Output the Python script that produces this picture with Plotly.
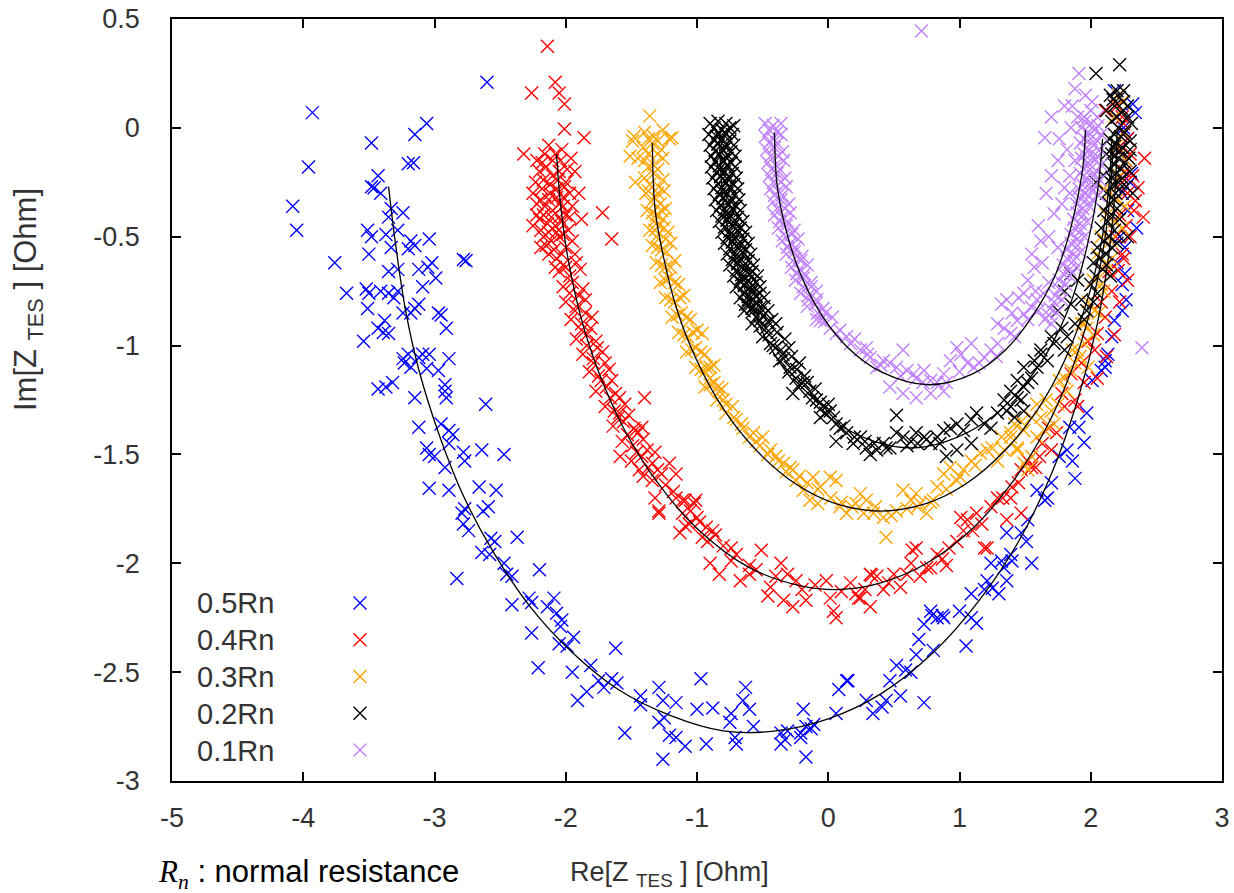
import plotly.graph_objects as go

# ---------------- data (Re, Im in Ohm) ----------------
labels = ["0.5Rn", "0.4Rn", "0.3Rn", "0.2Rn", "0.1Rn"]
colors = ["#0000ff", "#ff0000", "#ffa500", "#000000", "#c080ff"]

pts_05 = [
    (-2.60, 0.21), (-3.93, 0.07), (-3.06, 0.02), (-3.15, -0.03), (-3.48, -0.07), (-3.96, -0.18), (-3.20, -0.165), (-3.16, -0.16),
    (-3.43, -0.22), (-3.48, -0.27), (-3.41, -0.30), (-3.46, -0.275), (-4.08, -0.36), (-4.05, -0.47), (-3.33, -0.37), (-3.24, -0.39), (-3.35, -0.41),
    (-3.51, -0.47), (-3.48, -0.50), (-3.37, -0.49), (-3.28, -0.47), (-3.18, -0.52), (-3.15, -0.54), (-3.04, -0.51), (-3.50, -0.58), (-3.33, -0.55), (-3.20, -0.555),
    (-3.76, -0.62), (-2.78, -0.605), (-2.76, -0.61),
    (-3.35, -0.66), (-3.28, -0.65), (-3.12, -0.65), (-3.02, -0.62), (-2.99, -0.69), (-3.09, -0.73), (-3.05, -0.64),
    (-3.67, -0.76), (-3.52, -0.74), (-3.50, -0.76), (-3.51, -0.83), (-3.41, -0.75), (-3.35, -0.76), (-3.31, -0.78), (-3.28, -0.75),
    (-3.15, -0.83), (-3.12, -0.81), (-2.97, -0.85), (-2.95, -0.86), (-2.91, -0.92), (-3.24, -0.85), (-3.18, -0.85),
    (-3.54, -0.98), (-3.43, -0.92), (-3.38, -0.885), (-3.35, -0.945), (-3.39, -0.94),
    (-3.24, -1.06), (-3.23, -1.08), (-3.18, -1.10), (-3.12, -1.055), (-3.09, -1.04), (-3.04, -1.04), (-3.06, -1.105), (-2.97, -1.115), (-2.89, -1.06), (-3.20, -1.04),
    (-3.43, -1.20), (-3.32, -1.17), (-3.37, -1.19), (-3.15, -1.24), (-2.92, -1.21), (-2.91, -1.24), (-2.92, -1.18), (-2.61, -1.27),
    (-3.12, -1.375), (-2.95, -1.36), (-2.89, -1.39), (-2.86, -1.41),
    (-3.06, -1.47), (-3.04, -1.50), (-3.00, -1.51), (-2.92, -1.56), (-2.78, -1.49), (-2.77, -1.53), (-2.64, -1.48), (-2.47, -1.50), (-2.89, -1.45),
    (-3.04, -1.655), (-2.89, -1.665), (-2.66, -1.65), (-2.53, -1.665), (-2.77, -1.75), (-2.63, -1.76), (-2.79, -1.77), (-2.59, -1.74),
    (-2.74, -1.85), (-2.78, -1.82), (-2.57, -1.885), (-2.54, -1.90), (-2.37, -1.88), (-2.64, -1.95), (-2.58, -1.96), (-2.83, -2.07),
    (-2.47, -2.00), (-2.45, -2.05), (-2.41, -2.06), (-2.20, -2.03),
    (-2.41, -2.19), (-2.28, -2.16), (-2.26, -2.18), (-2.09, -2.16), (-2.14, -2.20), (-2.07, -2.23), (-2.03, -2.26), (-2.04, -2.29), (-2.26, -2.32),
    (-2.05, -2.37), (-1.94, -2.34), (-1.99, -2.38), (-2.21, -2.48),
    (-1.95, -2.50), (-1.81, -2.47), (-1.84, -2.59), (-1.91, -2.63), (-1.75, -2.54), (-1.71, -2.57), (-1.65, -2.53), (-1.61, -2.55), (-1.62, -2.39),
    (-1.43, -2.61), (-1.43, -2.65), (-1.29, -2.57), (-1.26, -2.63), (-1.16, -2.64), (-1.55, -2.78), (-1.29, -2.73), (-1.25, -2.71), (-1.21, -2.79), (-1.16, -2.80), (-1.09, -2.84), (-1.26, -2.90),
    (-0.97, -2.53), (-1.00, -2.67), (-0.88, -2.665), (-0.93, -2.83), (-0.74, -2.69), (-0.75, -2.73), (-0.65, -2.63), (-0.63, -2.57), (-0.60, -2.67), (-0.71, -2.80), (-0.70, -2.83), (-0.57, -2.75),
    (-0.36, -2.78), (-0.33, -2.81), (-0.31, -2.77), (-0.19, -2.67), (-0.21, -2.78), (-0.17, -2.75), (-0.13, -2.76), (-0.11, -2.74), (-0.21, -2.80), (-0.17, -2.89), (-0.36, -2.83),
    (0.08, -2.58), (0.15, -2.54), (0.06, -2.69),
    (0.14, -2.54), (0.34, -2.69), (0.41, -2.66), (0.29, -2.63), (0.44, -2.63), (0.55, -2.61), (0.73, -2.64),
    (0.47, -2.54), (0.52, -2.47), (0.59, -2.49), (0.63, -2.50), (0.67, -2.42), (0.69, -2.35), (0.80, -2.40), (0.73, -2.28),
    (0.79, -2.24), (0.83, -2.25), (0.87, -2.24), (0.88, -2.25), (0.78, -2.22), (1.00, -2.22), (1.09, -2.25), (1.13, -2.275), (1.05, -2.38), (1.09, -2.14),
    (1.19, -2.12), (1.25, -2.115), (1.21, -2.08), (1.30, -2.14), (1.36, -2.08), (1.24, -2.00), (1.32, -1.99), (1.34, -2.02), (1.39, -1.96), (1.40, -1.99),
    (1.55, -2.00), (1.51, -1.90), (1.47, -1.86), (1.36, -1.86), (1.52, -1.80), (1.65, -1.71),
    (1.67, -1.70), (1.59, -1.665), (1.70, -1.63), (1.88, -1.61), (1.76, -1.51), (1.82, -1.48), (1.86, -1.53), (1.95, -1.445), (1.97, -1.31), (1.91, -1.375), (1.84, -1.375),
    (2.01, -1.16), (2.08, -1.115), (2.11, -1.07), (2.13, -1.04), (2.18, -0.885), (2.24, -0.84), (2.27, -0.79), (2.16, -0.96),
    (2.18, 0.17), (2.32, 0.11), (2.34, 0.07), (2.31, -0.21), (2.35, -0.46), (2.26, -0.67), (2.11, -1.10),
    (2.20, 0.05), (2.25, 0.00), (2.28, -0.05), (2.22, -0.10), (2.27, -0.15), (2.30, -0.25), (2.24, -0.30), (2.28, -0.38),
    (2.22, -0.50), (2.26, -0.55), (2.20, -0.62), (2.24, -0.72),
]

pts_04 = [
    (-2.14, 0.375), (-2.26, 0.16), (-2.08, 0.21), (-2.05, 0.16), (-2.01, 0.11), (-2.01, -0.005), (-1.86, -0.045), (-2.32, -0.12), (-1.72, -0.39), (-1.65, -0.51),
    (-2.08, -0.12), (-2.13, -0.08), (-2.03, -0.10), (-2.16, -0.12), (-1.93, -0.20), (-1.90, -0.30), (-1.88, -0.42), (-2.25, -0.45), (-2.19, -0.55), (-2.25, -0.30),
    (-2.20, -0.20), (-2.15, -0.18), (-2.10, -0.22), (-2.05, -0.20), (-2.00, -0.25), (-2.18, -0.28), (-2.12, -0.30), (-2.07, -0.28), (-2.02, -0.32), (-1.97, -0.30),
    (-2.22, -0.35), (-2.16, -0.36), (-2.10, -0.38), (-2.05, -0.35), (-2.00, -0.40), (-1.95, -0.36), (-2.20, -0.42), (-2.14, -0.44), (-2.08, -0.45), (-2.03, -0.43),
    (-1.98, -0.47), (-2.17, -0.50), (-2.11, -0.52), (-2.05, -0.50), (-2.00, -0.55), (-2.13, -0.58), (-2.07, -0.60), (-2.02, -0.63), (-1.93, -0.58), (-1.96, -0.14),
    (-2.23, -0.25), (-2.17, -0.24), (-2.12, -0.26), (-2.06, -0.24), (-2.01, -0.27), (-2.19, -0.33), (-2.13, -0.33), (-2.07, -0.32), (-2.02, -0.36), (-1.97, -0.41),
    (-2.22, -0.40), (-2.17, -0.40), (-2.11, -0.41), (-2.05, -0.41), (-2.19, -0.47), (-2.13, -0.48), (-2.07, -0.48), (-2.02, -0.49), (-2.15, -0.54), (-2.09, -0.56),
    (-2.03, -0.58), (-2.10, -0.15), (-2.18, -0.16), (-2.04, -0.15), (-1.99, -0.19), (-2.22, -0.15), (-1.95, -0.52), (-2.08, -0.64), (-2.00, -0.64), (-1.92, -0.62),
    (-2.05, -0.66), (-1.97, -0.68), (-1.89, -0.65), (-2.02, -0.73), (-1.95, -0.71), (-1.87, -0.74), (-2.00, -0.80), (-1.92, -0.82), (-1.85, -0.79),
    (-1.96, -0.88), (-1.88, -0.90), (-1.80, -0.87), (-1.92, -0.97), (-1.84, -0.95), (-1.77, -0.98), (-1.87, -1.04), (-1.79, -1.06), (-1.72, -1.03),
    (-1.82, -1.12), (-1.75, -1.14), (-1.67, -1.11), (-1.77, -1.21), (-1.69, -1.19), (-1.62, -1.22), (-1.70, -1.28), (-1.63, -1.30), (-1.55, -1.27),
    (-1.64, -1.37), (-1.56, -1.35), (-1.48, -1.38), (-1.57, -1.44), (-1.49, -1.46), (-1.41, -1.43), (-1.50, -1.53), (-1.42, -1.51), (-1.34, -1.54),
    (-1.41, -1.60), (-1.34, -1.62), (-1.27, -1.59),
    (-1.97, -0.76), (-1.90, -0.77), (-1.93, -0.84), (-1.85, -0.85), (-1.88, -0.93), (-1.81, -0.92), (-1.84, -1.00), (-1.76, -1.01), (-1.79, -1.08), (-1.70, -1.08),
    (-1.73, -1.16), (-1.65, -1.16), (-1.66, -1.24), (-1.59, -1.24), (-1.60, -1.33), (-1.52, -1.32), (-1.53, -1.41), (-1.45, -1.40), (-1.46, -1.49), (-1.38, -1.48),
    (-1.37, -1.56), (-1.30, -1.57), (-1.24, -1.64), (-1.18, -1.67), (-1.05, -1.76), (-0.98, -1.81), (-0.80, -1.92), (-0.70, -1.96), (-0.55, -2.03), (-0.40, -2.06),
    (-0.20, -2.12), (-0.10, -2.10), (0.10, -2.13), (0.28, -2.12), (0.42, -2.12), (0.60, -2.05), (0.70, -2.06), (0.87, -1.98), (0.98, -1.90), (1.10, -1.85),
    (1.17, -1.82), (1.33, -1.70), (1.45, -1.63), (1.63, -1.45), (1.68, -1.38), (1.78, -1.22), (1.85, -1.13), (1.98, -0.98), (2.08, -0.80), (2.14, -0.66),
    (2.19, -0.50), (2.22, -0.40), (2.24, -0.25), (2.22, -0.10), (2.24, 0.05),
    (-1.59, -1.31), (-1.47, -1.39), (-1.42, -1.375), (-1.585, -1.51), (-1.44, -1.57), (-1.32, -1.49), (-1.21, -1.54), (-1.16, -1.59), (-1.40, -1.24),
    (-1.32, -1.70), (-1.29, -1.76), (-1.11, -1.71), (-1.01, -1.71), (-1.06, -1.82), (-0.93, -1.835),
    (-1.29, -1.77), (-1.16, -1.70), (-1.09, -1.71), (-1.02, -1.725), (-1.11, -1.77), (-1.09, -1.83), (-1.13, -1.86), (-1.00, -1.79), (-0.96, -1.88),
    (-0.88, -1.85), (-0.86, -1.87), (-0.92, -1.90),
    (-0.90, -2.00), (-0.83, -2.05), (-0.74, -1.93), (-0.74, -1.99), (-0.67, -2.08), (-0.60, -2.01), (-0.60, -2.05), (-0.51, -1.94), (-0.44, -2.11), (-0.46, -2.15),
    (-0.36, -2.00), (-0.31, -2.05), (-0.245, -2.08), (-0.34, -2.17), (-0.27, -2.20), (-0.17, -2.17), (-0.015, -2.08), (0.04, -2.22), (0.06, -2.25), (0.17, -2.09), (0.245, -2.16),
    (0.015, -2.16), (0.21, -2.14), (0.32, -2.05), (0.37, -2.06), (0.46, -2.09), (0.55, -2.11), (0.63, -2.00), (0.67, -1.93), (0.75, -2.02), (0.83, -1.96), (0.92, -1.93),
    (1.01, -1.79), (1.06, -1.80), (1.13, -1.77), (1.24, -1.74), (1.29, -1.70), (1.40, -1.65), (1.47, -1.57), (1.52, -1.53), (1.58, -1.56), (1.61, -1.51), (1.21, -1.93),
    (0.33, -2.055), (0.50, -2.05), (0.64, -1.94), (0.78, -2.02), (0.90, -2.01), (1.03, -1.85), (1.19, -1.93), (1.36, -1.80), (1.47, -1.77), (0.32, -2.20), (0.23, -2.16),
    (1.39, -1.70), (1.55, -1.56), (1.70, -1.48), (1.74, -1.40), (1.80, -1.28), (1.88, -1.25), (1.90, -1.28), (1.95, -1.17), (1.93, -1.08), (2.03, -1.02),
    (2.05, -0.945), (2.11, -0.87), (2.16, -0.75), (2.21, -0.655), (2.24, -0.58),
    (2.41, -0.14), (2.40, -0.41), (2.36, -0.275), (2.34, -0.335), (2.11, 0.08),
    (2.20, 0.10), (2.25, 0.02), (2.28, -0.05), (2.30, -0.12), (2.26, -0.20), (2.32, -0.22), (2.28, -0.30), (2.33, -0.38), (2.27, -0.45), (2.30, -0.50),
    (2.25, -0.60), (2.28, -0.70), (2.22, -0.80), (2.18, -0.95), (2.12, -1.05), (2.05, -1.15),
]

pts_03 = [
    (-1.36, 0.055), (-1.48, -0.04), (-1.45, -0.14), (-1.21, -0.05), (-1.49, -0.06), (-1.51, -0.13), (-1.19, -0.045), (-1.47, -0.25),
    (-1.40, -0.02), (-1.33, -0.04), (-1.26, -0.01), (-1.41, -0.09), (-1.34, -0.07), (-1.27, -0.10), (-1.40, -0.15), (-1.33, -0.17), (-1.26, -0.14),
    (-1.40, -0.23), (-1.33, -0.21), (-1.26, -0.24), (-1.39, -0.30), (-1.32, -0.32), (-1.25, -0.29), (-1.38, -0.38), (-1.31, -0.40), (-1.24, -0.37),
    (-1.36, -0.47), (-1.29, -0.45), (-1.22, -0.48), (-1.34, -0.54), (-1.27, -0.56), (-1.20, -0.53), (-1.31, -0.62), (-1.24, -0.64), (-1.17, -0.61),
    (-1.28, -0.71), (-1.21, -0.69), (-1.14, -0.72), (-1.24, -0.78), (-1.17, -0.80), (-1.10, -0.77), (-1.19, -0.87), (-1.12, -0.85), (-1.05, -0.88),
    (-1.14, -0.94), (-1.07, -0.96), (-1.00, -0.93), (-1.08, -1.03), (-1.01, -1.01), (-0.94, -1.04), (-1.01, -1.10), (-0.94, -1.12), (-0.87, -1.09),
    (-0.94, -1.19), (-0.87, -1.17), (-0.81, -1.20),
    (-1.37, -0.12), (-1.30, -0.12), (-1.36, -0.26), (-1.29, -0.27), (-1.35, -0.34), (-1.28, -0.35), (-1.33, -0.43), (-1.26, -0.42), (-1.31, -0.50), (-1.24, -0.51),
    (-1.37, -0.05), (-1.30, -0.06), (-1.37, -0.18), (-1.30, -0.19), (-1.37, -0.29), (-1.30, -0.30), (-1.34, -0.39), (-1.27, -0.38), (-1.32, -0.47), (-1.25, -0.46),
    (-1.30, -0.55), (-1.23, -0.57), (-1.27, -0.63), (-1.20, -0.64), (-1.24, -0.70), (-1.17, -0.71), (-1.20, -0.79), (-1.13, -0.78), (-1.15, -0.86), (-1.08, -0.87),
    (-1.10, -0.95), (-1.03, -0.94), (-1.04, -1.02), (-0.97, -1.03), (-0.97, -1.11), (-0.90, -1.10), (-0.90, -1.18), (-0.84, -1.19), (-0.85, -1.25), (-0.78, -1.27),
    (-0.72, -1.33), (-0.66, -1.36), (-0.60, -1.42), (-0.52, -1.46), (-0.46, -1.50), (-0.38, -1.53), (-0.32, -1.58), (-0.22, -1.60), (-0.16, -1.63), (-0.08, -1.66),
    (0.02, -1.70), (0.10, -1.72), (0.18, -1.74), (0.27, -1.77), (0.36, -1.74), (0.48, -1.78), (0.60, -1.75), (0.68, -1.74), (0.78, -1.72), (0.90, -1.66),
    (1.00, -1.60), (1.12, -1.55), (1.25, -1.47), (1.32, -1.42), (1.47, -1.35), (1.66, -1.25), (1.76, -1.16), (1.86, -1.02), (1.93, -0.90),
    (-0.96, -0.945), (-0.93, -1.10), (-0.90, -1.15), (-0.83, -1.21), (-0.80, -1.25), (-0.78, -1.31), (-0.73, -1.28), (-0.70, -1.34), (-0.65, -1.38),
    (-0.57, -1.40), (-0.55, -1.44), (-0.50, -1.42), (-0.44, -1.48), (-0.40, -1.51), (-0.34, -1.54), (-0.29, -1.56), (-0.27, -1.57), (-0.245, -1.62),
    (-0.19, -1.665), (-0.115, -1.605), (-0.06, -1.65), (0.015, -1.605), (0.06, -1.62), (-0.14, -1.71), (-0.08, -1.725), (0.09, -1.74), (0.14, -1.77),
    (0.21, -1.725), (0.245, -1.68), (0.29, -1.71), (0.345, -1.77), (0.42, -1.79), (0.44, -1.88), (0.52, -1.76), (0.57, -1.665), (0.63, -1.71),
    (0.67, -1.68), (0.70, -1.725), (0.75, -1.77), (0.80, -1.71), (0.83, -1.65), (0.88, -1.59), (0.93, -1.56), (0.98, -1.62), (1.03, -1.57),
    (1.09, -1.53), (1.16, -1.495), (1.21, -1.48), (1.29, -1.53), (1.34, -1.48), (1.39, -1.40), (1.44, -1.47), (1.49, -1.39), (1.55, -1.33), (1.59, -1.27),
    (1.39, -1.42), (1.44, -1.48), (1.49, -1.54), (1.55, -1.51), (1.59, -1.42), (1.65, -1.39), (1.70, -1.30), (1.75, -1.27), (1.82, -1.21), (1.85, -1.115),
    (1.88, -1.08), (1.95, -0.99), (1.97, -0.92), (2.03, -0.84), (2.08, -0.72), (2.11, -0.66), (2.16, -0.60), (1.52, -1.57), (1.42, -1.36), (1.62, -1.33),
    (1.72, -1.36), (1.80, -1.15), (1.90, -1.02),
    (2.21, 0.15), (2.24, 0.12), (2.18, 0.05), (2.25, -0.02), (2.20, -0.08), (2.27, -0.15), (2.22, -0.22), (2.10, -0.28), (2.15, -0.30), (2.20, -0.33),
    (2.26, -0.36), (2.12, -0.40), (2.18, -0.43), (2.24, -0.46), (2.08, -0.50), (2.15, -0.52), (2.05, -0.58), (2.12, -0.62), (2.02, -0.70), (2.10, -0.75),
    (1.98, -0.80), (2.06, -0.85), (1.95, -0.90), (2.02, -0.95), (1.92, -1.05), (1.98, -1.10),
]

pts_02 = [
    (-0.90, 0.02), (-0.84, 0.03), (-0.78, 0.02), (-0.72, 0.01), (-0.91, -0.03), (-0.85, -0.04), (-0.79, -0.02), (-0.73, -0.03),
    (-0.90, -0.08), (-0.84, -0.07), (-0.78, -0.09), (-0.72, -0.08), (-0.89, -0.13), (-0.83, -0.12), (-0.77, -0.14), (-0.71, -0.13),
    (-0.89, -0.18), (-0.83, -0.19), (-0.77, -0.17), (-0.71, -0.18), (-0.88, -0.23), (-0.82, -0.22), (-0.76, -0.24), (-0.70, -0.23),
    (-0.87, -0.28), (-0.81, -0.29), (-0.75, -0.27), (-0.69, -0.28), (-0.86, -0.33), (-0.80, -0.32), (-0.74, -0.34), (-0.68, -0.33),
    (-0.85, -0.38), (-0.79, -0.39), (-0.73, -0.37), (-0.67, -0.38), (-0.83, -0.43), (-0.77, -0.42), (-0.71, -0.44), (-0.65, -0.43),
    (-0.81, -0.48), (-0.75, -0.49), (-0.69, -0.47), (-0.63, -0.48), (-0.79, -0.53), (-0.73, -0.52), (-0.67, -0.54), (-0.61, -0.53),
    (-0.77, -0.58), (-0.71, -0.59), (-0.65, -0.57), (-0.59, -0.58), (-0.75, -0.63), (-0.69, -0.62), (-0.63, -0.64), (-0.57, -0.63),
    (-0.72, -0.68), (-0.66, -0.69), (-0.60, -0.67), (-0.54, -0.68), (-0.70, -0.73), (-0.64, -0.72), (-0.58, -0.74), (-0.52, -0.73),
    (-0.67, -0.78), (-0.61, -0.79), (-0.55, -0.77), (-0.49, -0.78), (-0.64, -0.84), (-0.58, -0.83), (-0.52, -0.85), (-0.46, -0.84),
    (-0.58, -0.90), (-0.52, -0.91), (-0.46, -0.89), (-0.40, -0.90),
    (-0.87, 0.00), (-0.81, -0.01), (-0.75, 0.00), (-0.87, -0.055), (-0.81, -0.05), (-0.75, -0.06), (-0.86, -0.105), (-0.80, -0.10), (-0.74, -0.11),
    (-0.86, -0.155), (-0.80, -0.15), (-0.74, -0.16), (-0.85, -0.205), (-0.79, -0.20), (-0.73, -0.21), (-0.84, -0.255), (-0.78, -0.25), (-0.72, -0.26),
    (-0.83, -0.305), (-0.77, -0.30), (-0.71, -0.31), (-0.82, -0.355), (-0.76, -0.35), (-0.70, -0.36), (-0.81, -0.405), (-0.75, -0.40), (-0.69, -0.41),
    (-0.79, -0.455), (-0.73, -0.45), (-0.67, -0.46), (-0.77, -0.505), (-0.71, -0.50), (-0.65, -0.51), (-0.75, -0.555), (-0.69, -0.55), (-0.63, -0.56),
    (-0.73, -0.605), (-0.67, -0.60), (-0.61, -0.61), (-0.70, -0.655), (-0.64, -0.65), (-0.58, -0.66), (-0.67, -0.705), (-0.61, -0.70), (-0.55, -0.71),
    (-0.64, -0.755), (-0.58, -0.75), (-0.52, -0.76), (-0.61, -0.81), (-0.55, -0.80), (-0.49, -0.82), (-0.55, -0.87), (-0.49, -0.86), (-0.43, -0.88),
    (-0.84, -0.025), (-0.78, -0.025), (-0.84, -0.075), (-0.78, -0.075), (-0.83, -0.125), (-0.77, -0.125), (-0.83, -0.175), (-0.77, -0.175),
    (-0.82, -0.225), (-0.76, -0.225), (-0.81, -0.275), (-0.75, -0.275), (-0.80, -0.325), (-0.74, -0.325), (-0.79, -0.375), (-0.73, -0.375),
    (-0.77, -0.425), (-0.71, -0.425), (-0.75, -0.475), (-0.69, -0.475), (-0.73, -0.525), (-0.67, -0.525), (-0.71, -0.575), (-0.65, -0.575),
    (-0.69, -0.625), (-0.63, -0.625), (-0.66, -0.675), (-0.60, -0.675), (-0.64, -0.725), (-0.58, -0.725), (-0.61, -0.775), (-0.55, -0.775),
    (-0.58, -0.825), (-0.52, -0.825),
    (-0.45, -0.95), (-0.39, -0.94), (-0.33, -0.97), (-0.42, -1.00), (-0.36, -1.02), (-0.30, -1.01), (-0.34, -1.06), (-0.28, -1.05), (-0.22, -1.08),
    (-0.30, -1.12), (-0.24, -1.11), (-0.18, -1.14), (-0.22, -1.18), (-0.16, -1.17), (-0.10, -1.20), (-0.12, -1.24), (-0.06, -1.26), (0.00, -1.27),
    (-0.02, -1.31), (0.06, -1.36), (0.12, -1.37), (0.20, -1.42), (0.28, -1.44), (0.35, -1.45), (0.44, -1.47), (0.60, -1.46), (0.68, -1.45),
    (0.75, -1.43), (0.85, -1.45),
    (-0.63, -0.81), (-0.57, -0.84), (-0.52, -0.885), (-0.475, -0.92), (-0.50, -0.96), (-0.44, -0.99), (-0.40, -1.01), (-0.345, -1.04), (-0.37, -1.07),
    (-0.29, -1.10), (-0.245, -1.15), (-0.27, -1.22), (-0.19, -1.17), (-0.14, -1.21), (-0.09, -1.25), (-0.04, -1.28), (0.015, -1.30), (-0.06, -1.33),
    (0.04, -1.33), (0.09, -1.38), (0.14, -1.40), (0.06, -1.44), (0.19, -1.45), (0.245, -1.42), (0.29, -1.47), (0.32, -1.50), (0.37, -1.48),
    (0.42, -1.45), (0.47, -1.47), (0.52, -1.40), (0.57, -1.42), (0.63, -1.44), (0.67, -1.40), (0.73, -1.42), (0.78, -1.45), (0.83, -1.42),
    (0.88, -1.39), (0.93, -1.38), (0.98, -1.36), (1.03, -1.39), (1.09, -1.34), (1.13, -1.31), (1.19, -1.36), (1.24, -1.38), (1.29, -1.31),
    (1.34, -1.25), (1.39, -1.28), (1.44, -1.24), (1.49, -1.19), (1.55, -1.15), (1.59, -1.10), (1.62, -1.04), (0.52, -1.32), (0.90, -1.51),
    (0.98, -1.48), (1.09, -1.45),
    (1.85, -0.67), (1.90, -0.70), (1.80, -0.75), (1.75, -0.84), (1.85, -0.81), (1.93, -0.79), (1.78, -0.92), (1.70, -0.96), (1.62, -1.02),
    (1.57, -1.07), (1.67, -1.07), (1.49, -1.10), (1.44, -1.16), (1.52, -1.17), (1.39, -1.21), (1.47, -1.25), (1.36, -1.30), (1.42, -1.33),
    (1.49, -1.30), (1.82, -0.96), (1.80, -1.02), (1.72, -0.99), (1.88, -0.90),
    (2.15, 0.15), (2.20, 0.17), (2.25, 0.12), (2.18, 0.10), (2.23, 0.07), (2.28, 0.05), (2.16, 0.03), (2.21, 0.00), (2.26, -0.02),
    (2.14, -0.05), (2.19, -0.07), (2.24, -0.09), (2.16, -0.12), (2.21, -0.14), (2.26, -0.16), (2.14, -0.19), (2.19, -0.21), (2.24, -0.23),
    (2.17, -0.26), (2.22, -0.28), (2.12, -0.30), (2.18, -0.33), (2.10, -0.38), (2.16, -0.40), (2.22, -0.42), (2.08, -0.46), (2.14, -0.50),
    (2.20, -0.53), (2.05, -0.55), (2.12, -0.58), (2.02, -0.62), (2.09, -0.65), (2.15, -0.68), (2.00, -0.72), (2.05, -0.76), (1.97, -0.84),
    (2.04, -0.25), (2.04, 0.25), (2.22, 0.29), (2.30, -0.10), (2.32, -0.30), (2.28, -0.50),
    (2.17, 0.13), (2.22, 0.14), (2.20, 0.05), (2.25, 0.08), (2.18, -0.03), (2.23, -0.04), (2.17, -0.09), (2.22, -0.11), (2.18, -0.17),
    (2.23, -0.19), (2.16, -0.23), (2.21, -0.25), (2.19, -0.30), (2.14, -0.35), (2.20, -0.37), (2.13, -0.43), (2.18, -0.47), (2.10, -0.52),
    (2.16, -0.55), (2.07, -0.60), (2.12, -0.63), (2.04, -0.68), (2.02, -0.80), (1.95, -0.88),
    (2.28, 0.10), (2.31, 0.02), (2.30, -0.06), (2.29, -0.14), (2.30, -0.20), (2.27, -0.27), (2.25, 0.17), (2.12, 0.08), (2.12, -0.12), (2.10, -0.22),
]

pts_01 = [
    (-0.48, 0.02), (-0.42, 0.01), (-0.36, 0.02), (-0.48, -0.04), (-0.42, -0.05), (-0.36, -0.03), (-0.47, -0.10), (-0.41, -0.09), (-0.35, -0.11),
    (-0.46, -0.16), (-0.40, -0.17), (-0.34, -0.15), (-0.45, -0.22), (-0.39, -0.21), (-0.33, -0.23), (-0.44, -0.28), (-0.38, -0.29), (-0.32, -0.27),
    (-0.42, -0.34), (-0.36, -0.33), (-0.30, -0.35), (-0.41, -0.40), (-0.35, -0.41), (-0.29, -0.39), (-0.38, -0.46), (-0.32, -0.45), (-0.26, -0.47),
    (-0.35, -0.52), (-0.29, -0.53), (-0.23, -0.51), (-0.32, -0.58), (-0.26, -0.57), (-0.20, -0.59), (-0.28, -0.64), (-0.22, -0.65), (-0.16, -0.63),
    (-0.25, -0.70), (-0.19, -0.69), (-0.13, -0.71), (-0.21, -0.76), (-0.15, -0.77), (-0.09, -0.75), (-0.16, -0.82), (-0.10, -0.81), (-0.04, -0.83),
    (-0.09, -0.88), (-0.03, -0.89), (0.03, -0.87),
    (-0.45, -0.01), (-0.39, -0.02), (-0.45, -0.07), (-0.39, -0.07), (-0.44, -0.13), (-0.38, -0.13), (-0.43, -0.19), (-0.37, -0.19), (-0.42, -0.25),
    (-0.36, -0.25), (-0.41, -0.31), (-0.35, -0.31), (-0.39, -0.37), (-0.33, -0.37), (-0.37, -0.43), (-0.31, -0.43), (-0.34, -0.49), (-0.28, -0.49),
    (-0.31, -0.55), (-0.25, -0.55), (-0.27, -0.61), (-0.21, -0.61), (-0.24, -0.67), (-0.18, -0.67), (-0.19, -0.73), (-0.13, -0.73), (-0.15, -0.79),
    (-0.09, -0.79), (-0.08, -0.85), (-0.02, -0.85), (0.09, -0.93), (0.20, -0.97), (0.30, -1.04), (0.40, -1.09), (0.55, -1.14), (0.65, -1.13),
    (0.72, -1.17), (0.90, -1.17), (1.00, -1.12), (1.15, -1.08), (1.28, -1.05), (1.42, -0.96), (1.52, -0.88), (1.60, -0.84), (1.64, -0.76), (1.68, -0.71),
    (-0.06, -0.885), (0.015, -0.92), (0.06, -0.945), (0.14, -0.96), (0.17, -0.99), (0.245, -1.02), (0.29, -1.01), (0.32, -1.055), (0.37, -1.10),
    (0.42, -1.07), (0.47, -1.08), (0.52, -1.10), (0.57, -1.02), (0.60, -1.115), (0.67, -1.15), (0.73, -1.115), (0.78, -1.16), (0.83, -1.17),
    (0.88, -1.13), (0.93, -1.07), (1.01, -1.04), (1.06, -1.08), (1.11, -1.10), (1.19, -1.055), (1.24, -1.02), (1.29, -0.99), (1.34, -0.92),
    (1.39, -0.945), (1.44, -0.885), (1.49, -0.855), (1.55, -0.825), (1.59, -0.79), (0.47, -1.19), (0.57, -1.22), (0.67, -1.24), (0.78, -1.22),
    (0.88, -1.21), (0.98, -1.01), (1.29, -0.90), (1.32, -0.81), (1.09, -0.99),
    (1.95, 0.05), (2.00, 0.08), (2.05, 0.05), (1.93, 0.00), (1.98, -0.02), (2.03, -0.01), (2.08, -0.03), (1.92, -0.07), (1.97, -0.09),
    (2.02, -0.08), (2.07, -0.10), (1.93, -0.14), (1.98, -0.16), (2.03, -0.15), (2.08, -0.17), (1.92, -0.21), (1.97, -0.23), (2.02, -0.22),
    (2.07, -0.24), (1.91, -0.28), (1.96, -0.30), (2.01, -0.29), (2.06, -0.31), (1.89, -0.35), (1.94, -0.37), (1.99, -0.36), (1.87, -0.42),
    (1.92, -0.44), (1.97, -0.43), (1.85, -0.49), (1.90, -0.51), (1.95, -0.50), (1.82, -0.56), (1.87, -0.58), (1.92, -0.57), (1.79, -0.63),
    (1.84, -0.65), (1.89, -0.64), (1.76, -0.70), (1.81, -0.72), (1.73, -0.77), (1.78, -0.79), (1.69, -0.83), (1.74, -0.85), (1.65, -0.88),
    (1.70, -0.90),
    (1.955, 0.03), (2.005, 0.02), (2.055, 0.01), (1.95, -0.05), (2.00, -0.05), (2.05, -0.06), (1.95, -0.12), (2.00, -0.12), (2.05, -0.13),
    (1.945, -0.19), (1.995, -0.19), (2.045, -0.20), (1.935, -0.26), (1.985, -0.26), (2.035, -0.27), (1.915, -0.32), (1.965, -0.33), (2.015, -0.33),
    (1.895, -0.39), (1.945, -0.40), (1.875, -0.46), (1.925, -0.47), (1.85, -0.53), (1.90, -0.54), (1.82, -0.60), (1.87, -0.61), (1.79, -0.67),
    (1.84, -0.68), (1.76, -0.74), (1.72, -0.80), (1.68, -0.86),
    (1.70, 0.05), (1.76, -0.05), (1.82, -0.10), (1.70, -0.22), (1.78, -0.35), (1.66, -0.30), (1.84, -0.22), (1.60, -0.45), (1.68, -0.50),
    (1.75, -0.55), (1.55, -0.58), (1.63, -0.62), (1.52, -0.70), (1.45, -0.78), (1.58, -0.75), (1.40, -0.85), (1.86, 0.10), (1.90, 0.05),
    (1.96, 0.15), (2.01, 0.12), (1.88, -0.15), (1.84, -0.30),
    (1.65, -0.045), (1.91, 0.25), (1.85, 0.00), (1.80, -0.275), (1.72, -0.395), (1.62, -0.52), (1.57, -0.64), (1.49, -0.76), (1.36, -0.79),
    (1.88, 0.18), (1.80, 0.10), (1.75, -0.15), (2.39, -1.01), (0.71, 0.445),
]

# fitted curves
fit_05 = [(-3.35, -0.27), (-3.30, -0.52), (-3.22, -0.84), (-3.12, -1.11), (-2.97, -1.40), (-2.78, -1.69), (-2.55, -1.95), (-2.27, -2.20),
          (-1.95, -2.41), (-1.60, -2.58), (-1.20, -2.70), (-0.80, -2.77), (-0.40, -2.77), (0.00, -2.715), (0.40, -2.60), (0.80, -2.41),
          (1.15, -2.17), (1.45, -1.90), (1.70, -1.59), (1.90, -1.25), (2.05, -0.90), (2.14, -0.57), (2.19, -0.24), (2.20, -0.02)]
fit_04 = [(-2.07, -0.12), (-2.04, -0.35), (-1.98, -0.61), (-1.88, -0.88), (-1.75, -1.12), (-1.55, -1.39), (-1.30, -1.63), (-1.00, -1.84),
          (-0.60, -2.02), (-0.20, -2.105), (0.10, -2.12), (0.40, -2.09), (0.75, -2.00), (1.10, -1.84), (1.40, -1.63), (1.65, -1.39),
          (1.85, -1.12), (2.00, -0.83), (2.10, -0.54), (2.15, -0.29), (2.17, -0.08)]
fit_03 = [(-1.34, -0.07), (-1.32, -0.37), (-1.26, -0.58), (-1.15, -0.84), (-1.00, -1.07), (-0.80, -1.29), (-0.55, -1.48), (-0.25, -1.635),
          (0.05, -1.725), (0.40, -1.76), (0.75, -1.725), (1.05, -1.635), (1.35, -1.48), (1.60, -1.29), (1.80, -1.07), (1.98, -0.78),
          (2.08, -0.53), (2.14, -0.26), (2.16, -0.05)]
fit_02 = [(-0.83, -0.02), (-0.80, -0.34), (-0.72, -0.58), (-0.60, -0.80), (-0.42, -1.03), (-0.20, -1.21), (0.05, -1.35), (0.35, -1.44),
          (0.63, -1.47), (0.90, -1.44), (1.20, -1.35), (1.45, -1.21), (1.67, -1.03), (1.85, -0.80), (1.97, -0.55), (2.05, -0.30), (2.09, -0.05)]
fit_01 = [(-0.41, -0.02), (-0.39, -0.26), (-0.33, -0.45), (-0.22, -0.66), (-0.05, -0.86), (0.15, -1.01), (0.40, -1.12), (0.76, -1.18),
          (1.10, -1.13), (1.35, -1.02), (1.55, -0.87), (1.72, -0.69), (1.82, -0.52), (1.89, -0.35), (1.94, -0.18), (1.96, -0.01)]

x_ticks = [-5, -4, -3, -2, -1, 0, 1, 2, 3]
x_tick_labels = ["-5", "-4", "-3", "-2", "-1", "0", "1", "2", "3"]
y_ticks = [0.5, 0, -0.5, -1, -1.5, -2, -2.5, -3]
y_tick_labels = ["0.5", "0", "-0.5", "-1", "-1.5", "-2", "-2.5", "-3"]

# ---------------- figure ----------------
FONT = "Liberation Sans, Arial, sans-serif"
TXT = "#333333"

fig = go.Figure()
series = [pts_05, pts_04, pts_03, pts_02, pts_01]
for name, pts, col in zip(labels, series, colors):
    fig.add_trace(go.Scatter(
        x=[p[0] for p in pts], y=[p[1] for p in pts], mode="markers", name=name, legendgroup=name,
        marker=dict(symbol="x-thin", size=13, color=col, line=dict(width=1.4, color=col)),
    ))
for fit in [fit_05, fit_04, fit_03, fit_02, fit_01]:
    fig.add_trace(go.Scatter(
        x=[p[0] for p in fit], y=[p[1] for p in fit], mode="lines", showlegend=False, hoverinfo="skip",
        line=dict(color="black", width=1.3, shape="spline"),
    ))

L, R, T, B = 172, 12, 19, 112
W, H = 1234, 893
PW, PH = W - L - R, H - T - B


def px(xp):
    return (xp - L) / PW


def py(yp):
    return 1 - (yp - T) / PH


annotations = []
legend_rows = [603, 640, 677, 714, 751]
for name, yp in zip(labels, legend_rows):
    annotations.append(dict(text=name, x=px(195), y=py(yp), xref="paper", yref="paper",
                            xanchor="left", yanchor="middle", showarrow=False,
                            font=dict(family=FONT, size=29, color=TXT)))
annotations.append(dict(text="Re[Z <sub>TES</sub> ] [Ohm]", x=px(669), y=py(874), xref="paper", yref="paper",
                        xanchor="center", yanchor="middle", showarrow=False,
                        font=dict(family=FONT, size=27, color=TXT)))
annotations.append(dict(text="Im[Z <sub>TES</sub> ] [Ohm]", x=px(28), y=py(300), xref="paper", yref="paper",
                        xanchor="center", yanchor="middle", showarrow=False, textangle=-90,
                        font=dict(family=FONT, size=31, color=TXT)))
annotations.append(dict(
    text="<span style=\"font-family:'Liberation Serif', 'Times New Roman', serif\"><i>R</i><sub><i>n</i></sub></span> : normal resistance",
    x=px(156), y=py(874), xref="paper", yref="paper", xanchor="left", yanchor="middle", showarrow=False,
    font=dict(family=FONT, size=31, color="black")))

axis_common = dict(showline=True, linecolor="black", linewidth=1.5, mirror="ticks", ticks="inside",
                   ticklen=9, tickwidth=1.5, tickcolor="black", showgrid=False, zeroline=False,
                   automargin=False, tickfont=dict(family=FONT, size=27, color=TXT))

fig.update_layout(
    width=W, height=H, margin=dict(l=L, r=R, t=T, b=B, autoexpand=False),
    paper_bgcolor="white", plot_bgcolor="white",
    xaxis=dict(range=[-5, 3], tickvals=x_ticks, ticktext=x_tick_labels, ticklabelstandoff=12, **axis_common),
    yaxis=dict(range=[-3, 0.5], tickvals=y_ticks, ticktext=y_tick_labels, ticklabelstandoff=25, **axis_common),
    legend=dict(x=px(340), y=py(581), xanchor="left", yanchor="top", bgcolor="rgba(0,0,0,0)",
                font=dict(family=FONT, size=24, color="rgba(0,0,0,0)"), tracegroupgap=2.5,
                itemclick=False, itemdoubleclick=False),
    annotations=annotations,
    showlegend=True,
)

fig.write_html("out.html")
